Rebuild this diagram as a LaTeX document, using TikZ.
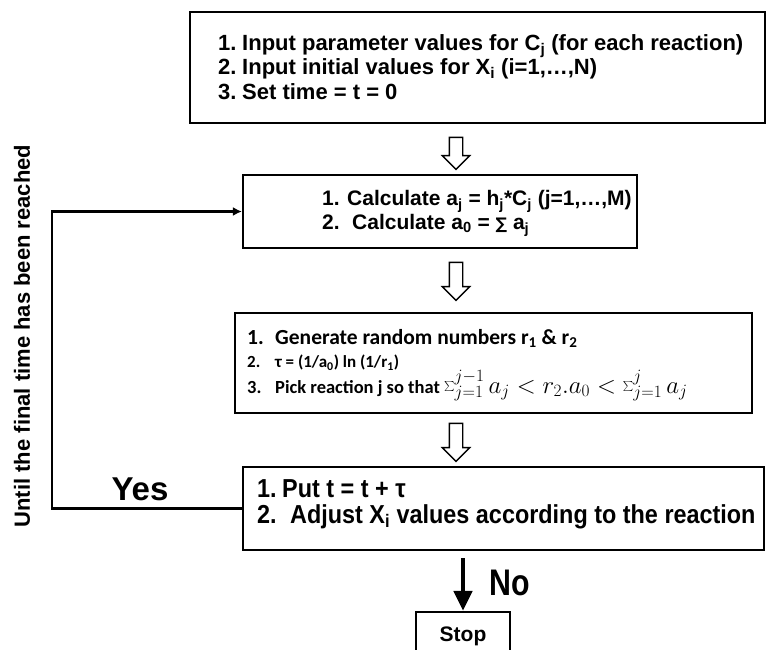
\documentclass[tikz,border=0pt]{standalone}
\usepackage{fontspec}
\setmainfont{Liberation Sans}
\newfontfamily\carl{Carlito}
\newfontfamily\narr[FakeStretch=0.82]{Liberation Sans}
\newfontfamily\narrb[FakeStretch=0.9]{Liberation Sans}
\newfontfamily\dejav{DejaVu Sans}
\usetikzlibrary{shapes.arrows,arrows.meta,calc}
\begin{document}
\begin{tikzpicture}[x=1pt,y=-1pt,
  box/.style={draw, line width=2.2pt, inner sep=0pt, rectangle},
  ta/.style={anchor=base west, inner sep=0pt, font=\bfseries\fontsize{22}{24}\selectfont},
  tab/.style={anchor=base west, inner sep=0pt, font=\bfseries\fontsize{21}{24}\selectfont},
  tb/.style={anchor=base west, inner sep=0pt, font=\carl\bfseries\fontsize{21.5}{24}\selectfont},
  tc/.style={anchor=base west, inner sep=0pt, font=\carl\bfseries\fontsize{17}{20}\selectfont},
  td/.style={anchor=base west, inner sep=0pt, font=\carl\bfseries\fontsize{18.5}{20}\selectfont},
  tn/.style={anchor=base west, inner sep=0pt, font=\narrb\bfseries\fontsize{26}{28}\selectfont},
  hollow/.style={draw, line width=1.4pt, single arrow, shape border rotate=270,
    single arrow head extend=7pt, single arrow head indent=0pt, inner sep=6pt},
  loopline/.style={line width=2.5pt, -{Latex[length=9pt,width=9pt]}},
  solidarrow/.style={line width=4.5pt, -{Triangle[length=20pt,width=18pt]}}
]
\useasboundingbox (0,0) rectangle (766,649);

% boxes
\node[box, minimum width=575pt, minimum height=111pt] (b1) at (477.5,67.5) {};
\node[box, minimum width=394pt, minimum height=73pt] (b2) at (440,211.5) {};
\node[box, minimum width=517pt, minimum height=100pt] (b3) at (493.5,363) {};
\node[box, minimum width=521pt, minimum height=83pt] (b4) at (503.5,508.5) {};
\node[box, minimum width=94pt, minimum height=50pt] (stop) at (463,637) {};

% box 1 text
\node[ta] (n11) at (218,50) {1.};
\node[ta] (t11) at (242,50) {Input parameter values for C\textsubscript{j} (for each reaction)};
\node[ta] (n12) at (218,74.5) {2.};
\node[ta] (t12) at (242,74.5) {Input initial values for X\textsubscript{i} (i=1,\dots,N)};
\node[ta] (n13) at (218,99.5) {3.};
\node[ta] (t13) at (242,99.5) {Set time = t = 0};

% box 2 text
\node[tab] (n21) at (322,205.5) {1.};
\node[tab] (t21) at (347,205.5) {Calculate a\textsubscript{j} = h\textsubscript{j}*C\textsubscript{j} (j=1,\dots,M)};
\node[tab] (n22) at (322,229.5) {2.};
\node[tab] (t22) at (352,229.5) {Calculate a\textsubscript{0} = {\dejav\fontsize{16}{20}\selectfont ∑} a\textsubscript{j}};

% box 3 text
\node[tb] (n31) at (247,344.5) {1.};
\node[tb] (t31) at (275,344.5) {Generate random numbers r\textsubscript{1} \& r\textsubscript{2}};
\node[tc] (n32) at (247,367.5) {2.};
\node[tc] (t32) at (275,367.5) {τ = (1/a\textsubscript{0}) ln (1/r\textsubscript{1})};
\node[td] (n33) at (247,393) {3.};
\node[td] (t33) at (275,393) {Pick reaction j so that {\fontsize{23}{24}\selectfont$\textstyle\sum_{j=1}^{j-1} a_j < r_2 . a_0 < \sum_{j=1}^{j} a_j$}};

% box 4 text
\node[tn] (n41) at (257,497) {1.};
\node[tn] (t41) at (282,497) {Put t = t + τ};
\node[tn] (n42) at (257,523) {2.};
\node[tn] (t42) at (290,523) {Adjust X\textsubscript{i} values according to the reaction};

% stop text
\node[anchor=base, inner sep=0pt, font=\bfseries\fontsize{21}{22}\selectfont] (ts) at (463,641) {Stop};

% hollow arrows
\node[hollow, minimum height=32pt] (h1) at (456,150) {};
\node[hollow, minimum height=38pt] (h2) at (456,278) {};
\node[hollow, minimum height=38pt] (h3) at (456,439) {};

% loop back
\draw[loopline] (b4.west) -- ++(-190,0) |- (b2.west);
\node[anchor=base, inner sep=0pt, font=\bfseries\fontsize{33}{36}\selectfont] (yes) at (140,500) {Yes};
\node[rotate=90, anchor=center, inner sep=0pt, font=\bfseries\fontsize{22}{24}\selectfont] (until) at (22,336) {Until the final time has been reached};

% to stop
\coordinate (s0) at (stop.north |- 0,558);
\draw[solidarrow] (s0) -- (stop.north);
\node[anchor=base west, inner sep=0pt, font=\narr\bfseries\fontsize{37}{40}\selectfont] (no) at (489,595) {No};
\end{tikzpicture}
\end{document}
